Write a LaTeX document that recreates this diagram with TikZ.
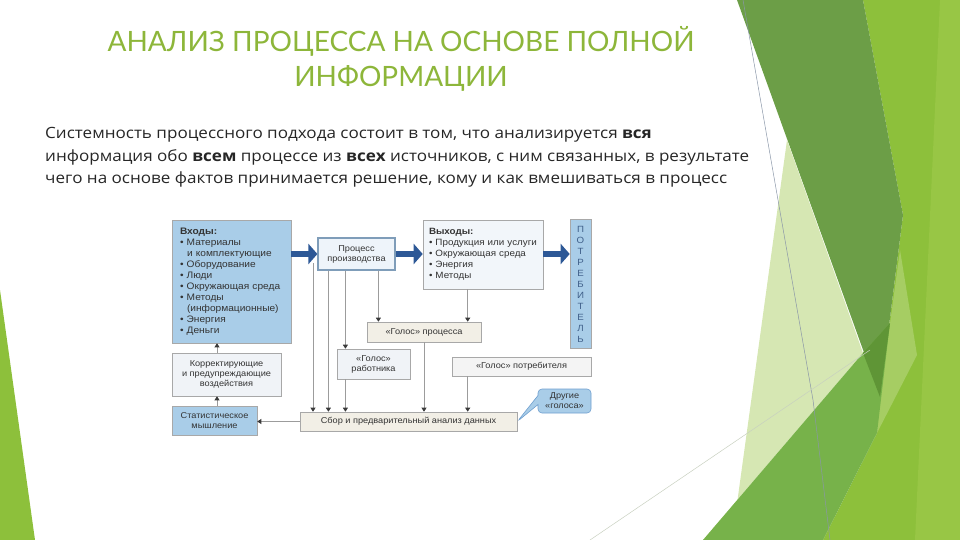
\documentclass[tikz,border=0pt]{standalone}
\usepackage{fontspec}
\setmainfont[FakeStretch=1.08]{Liberation Sans}
\newfontfamily\titlefont{Lato}
\newfontfamily\bodyfont[FakeStretch=1.1]{Open Sans}
\usetikzlibrary{positioning,arrows.meta,shapes.callouts}
\definecolor{gdark}{HTML}{6C9E47}
\definecolor{gdeep}{HTML}{5F9536}
\definecolor{gbright}{HTML}{8DC03B}
\definecolor{glight}{HTML}{98C645}
\definecolor{gmed}{HTML}{77B24A}
\definecolor{gpale}{HTML}{D6E7B3}
\definecolor{gsheen}{HTML}{A6CD63}
\definecolor{decoline}{HTML}{8A96A8}
\definecolor{paleline}{HTML}{C8D0C0}
\definecolor{titlegreen}{HTML}{8DB63A}
\definecolor{bodytext}{HTML}{262626}
\definecolor{inblue}{HTML}{A9CDE8}
\definecolor{procfill}{HTML}{EEF4FA}
\definecolor{procblue}{HTML}{7F9DB9}
\definecolor{outfill}{HTML}{F2F6FA}
\definecolor{beige}{HTML}{F2EFE6}
\definecolor{paleblue}{HTML}{F0F3F7}
\definecolor{palegray}{HTML}{F4F4F4}
\definecolor{boxgray}{HTML}{A8A8A8}
\definecolor{linegray}{HTML}{9C9C9C}
\definecolor{tipgray}{HTML}{3A3A3A}
\definecolor{textgray}{HTML}{333333}
\definecolor{arrowblue}{HTML}{2D5896}
\definecolor{letterblue}{HTML}{40608A}
\definecolor{callblue}{HTML}{6F9FCF}

\begin{document}
\begin{tikzpicture}[
    x=1pt, y=-1pt,
    box/.style={draw=boxgray, line width=0.6pt, align=center, text=textgray,
      inner sep=2pt, font=\fontsize{8.5}{10}\selectfont},
    listbox/.style={box, align=left, inner xsep=8pt, font=\fontsize{9.4}{11}\selectfont},
    bigarrow/.style={draw=arrowblue, line width=6.5pt, -{Triangle[length=9pt,width=20pt]}},
    flow/.style={draw=linegray, line width=0.7pt, -{Triangle[length=4pt,width=5pt,color=tipgray]}}
]
\useasboundingbox (0,0) rectangle (960,540);

% green shapes of the slide
\fill[gbright] (0,290) -- (35,540) -- (0,540) -- cycle;
\fill[gbright] (863,0) -- (960,0) -- (960,540) -- (823,540) -- (877,433) -- (880,397) -- (903,215) -- cycle;
\fill[glight] (940,0) -- (960,0) -- (960,540) -- (915,540) -- cycle;
\fill[gsheen] (900,250) -- (917,355) -- (877,433) -- (880,397) -- cycle;
\fill[gdark] (737,0) -- (863,0) -- (903,215) -- (880,397) -- cycle;
\fill[gpale] (787,140) -- (863,353) -- (703,540) -- (732,540) -- cycle;
\fill[gmed] (703,540) -- (863,353) -- (890,323) -- (877,433) -- (823,540) -- cycle;
\fill[gdeep] (863,353) -- (890,323) -- (880,397) -- cycle;
\draw[decoline, line width=0.5pt] (743,0) -- (813,400) -- (830,540);
\draw[paleline, line width=0.5pt] (590,540) -- (870,350);

% title and text
\node[anchor=base, text=titlegreen, font=\titlefont\fontsize{28}{35}\selectfont] (title1) at (401,52) {АНАЛИЗ ПРОЦЕССА НА ОСНОВЕ ПОЛНОЙ};
\node[anchor=base, text=titlegreen, font=\titlefont\fontsize{28}{35}\selectfont] (title2) at (401,87) {ИНФОРМАЦИИ};
\node[anchor=base west, inner sep=0pt, text=bodytext, font=\bodyfont\fontsize{15.5}{22}\selectfont] (line1) at (45,139)
  {Системность процессного подхода состоит в том, что анализируется \textbf{вся}};
\node[anchor=base west, inner sep=0pt, text=bodytext, font=\bodyfont\fontsize{15.5}{22}\selectfont] (line2) at (45,161)
  {информация обо \textbf{всем} процессе из \textbf{всех} источников, с ним связанных, в результате};
\node[anchor=base west, inner sep=0pt, text=bodytext, font=\bodyfont\fontsize{15.5}{22}\selectfont] (line3) at (45,183)
  {чего на основе фактов принимается решение, кому и как вмешиваться в процесс};

% process diagram
\node[listbox, fill=inblue, text width=103pt, minimum height=123pt] (inp) at (231.5,281.5)
  {\textbf{Входы:}\\
   \textbullet\ Материалы\\
   \hspace*{7pt}и комплектующие\\
   \textbullet\ Оборудование\\
   \textbullet\ Люди\\
   \textbullet\ Окружающая среда\\
   \textbullet\ Методы\\
   \hspace*{7pt}(информационные)\\
   \textbullet\ Энергия\\
   \textbullet\ Деньги};
\node[box, draw=procblue, line width=1.2pt, fill=procfill, minimum width=77pt, minimum height=32pt] (proc) at (356.5,254)
  {Процесс\\производства};
\node[listbox, fill=outfill, text width=108pt, inner xsep=6pt, minimum height=69pt,
  font=\fontsize{9.1}{11}\selectfont] (out) at (483,254.5)
  {\textbf{Выходы:}\\
   \textbullet\ Продукция или услуги\\
   \textbullet\ Окружающая среда\\
   \textbullet\ Энергия\\
   \textbullet\ Методы};
\node[box, fill=inblue, text=letterblue, minimum width=21pt, minimum height=129pt, inner sep=0pt,
  font=\fontsize{9}{11}\selectfont] (cons) at (580.5,284)
  {П\\О\\Т\\Р\\Е\\Б\\И\\Т\\Е\\Л\\Ь};
\node[box, fill=beige, minimum width=114pt, minimum height=20pt] (vproc) at (424,332) {«Голос» процесса};
\node[box, fill=paleblue, minimum width=73pt, minimum height=30pt] (vwork) at (373.5,364) {«Голос»\\работника};
\node[box, fill=palegray, minimum width=139pt, minimum height=19pt] (vcons) at (521.5,366.5) {«Голос» потребителя};
\node[box, fill=paleblue, minimum width=109pt, minimum height=43pt] (corr) at (226.5,374.5)
  {Корректирующие\\и предупреждающие\\воздействия};
\node[box, fill=inblue, minimum width=85pt, minimum height=29pt] (stat) at (214.5,420.5) {Статистическое\\мышление};
\node[box, fill=beige, minimum width=217pt, minimum height=19pt] (data) at (408.5,421.5)
  {Сбор и предварительный анализ данных};
\node[box, rectangle callout, rounded corners=4pt, draw=callblue, fill=inblue, minimum width=53pt, minimum height=24pt,
  callout absolute pointer={(data.east)}, callout pointer width=9pt] (other) at (564.5,401) {Другие\\«голоса»};

% main flow
\draw[bigarrow] (inp.east |- proc.west) -- (proc.west);
\draw[bigarrow] (proc.east) -- (out.west |- proc.east);
\draw[bigarrow] (out.east |- proc.east) -- (cons.west |- proc.east);

% data lines
\coordinate (tap) at (313,263);
\coordinate (pA) at ([xshift=11pt]proc.south west);
\coordinate (pB) at ([xshift=28pt]proc.south west);
\coordinate (pC) at ([xshift=61pt]proc.south west);
\coordinate (pD) at ([xshift=45pt]out.south west);
\coordinate (pE) at ([xshift=2.5pt]stat.north);
\draw[flow] (tap) -- (tap |- data.north);
\draw[flow] (pA) -- (pA |- data.north);
\draw[flow] (pB) -- (pB |- vwork.north);
\draw[flow] (vwork.south -| pB) -- (pB |- data.north);
\draw[flow] (pC) -- (pC |- vproc.north);
\draw[flow] (pD) -- (pD |- vproc.north);
\draw[flow] (vproc.south) -- (vproc.south |- data.north);
\draw[flow] (vcons.south -| pD) -- (pD |- data.north);
\draw[flow] (data.west) -- (data.west -| stat.east);
\draw[flow] (pE) -- (pE |- corr.south);
\draw[flow] (pE |- corr.north) -- (pE |- inp.south);
\end{tikzpicture}
\end{document}
